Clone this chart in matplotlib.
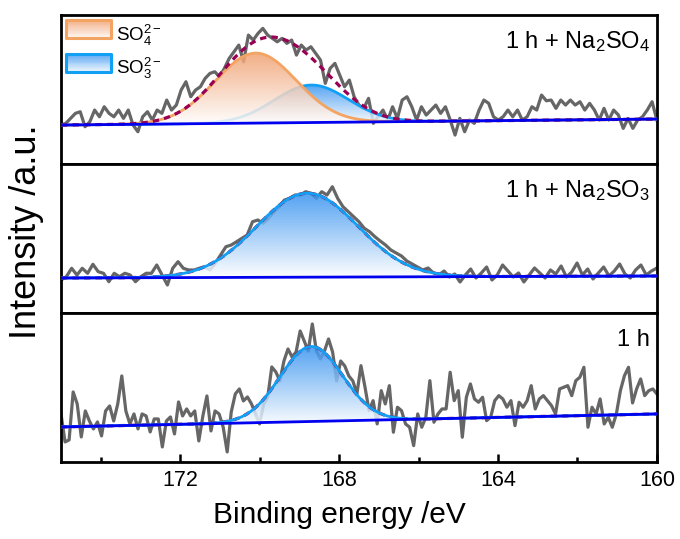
import numpy as np
import matplotlib
matplotlib.use("Agg")
import matplotlib.pyplot as plt
from matplotlib.colors import LinearSegmentedColormap
from matplotlib.patches import Patch, Rectangle
from matplotlib.legend_handler import HandlerBase

plt.rcParams['font.family'] = ['Liberation Sans', 'DejaVu Sans']
plt.rcParams['mathtext.fontset'] = 'custom'
plt.rcParams['mathtext.rm'] = 'Liberation Sans'
plt.rcParams['mathtext.it'] = 'Liberation Sans:italic'

# raw intensities (arbitrary units), 175 -> 160 eV
raw_top = [39, 40.7, 45.7, 50.7, 52.3, 37.3, 42.3, 54, 47.3, 57.3, 50.7, 47.3, 54, 45.7, 54,
           39, 32.3, 47.3, 52.3, 44, 54, 50.7, 64, 54, 59, 74, 82.3, 67.3, 74, 77.3, 85.7,
           90.7, 92.3, 87.3, 95.7, 105.7, 112.3, 119, 102.3, 129, 124, 130.7, 135.7, 129,
           125.7, 122.3, 125.7, 120.7, 124, 109, 119, 114, 117.3, 110.7, 104, 80.7, 95.7,
           100.7, 89, 77.3, 84, 67.3, 59, 55.7, 65.7, 40.7,
           47.3, 54, 44, 57.3, 45.7, 64, 67.3, 57.3, 44, 57.3, 49, 54, 59, 50.7, 57.3, 44,
           29, 45.7, 32.3, 44, 40.7, 54, 64, 60.7, 47.3, 44, 47.3, 54, 47.3, 54, 44, 47.3,
           57.3, 54, 69, 63.3, 64, 55.7, 64, 59, 64, 59, 62.3, 54, 60.7, 54, 44, 55.7, 44,
           54, 49, 35.7, 45.7, 35.7, 44, 47.3, 54, 62.3, 44]

raw_mid = [33, 36.3, 44.7, 38, 44.7, 39.7, 48.7, 41.3, 39.7, 31.3, 39.7, 36.3, 39.7, 38,
           31.3, 36.3, 39.7, 39.7, 48, 38, 28, 44.7, 51.3, 44.7, 43, 43, 44.7, 46.3, 43,
           49.7, 58, 66.3, 68, 71.3, 74.7, 78, 91.3, 93, 89.7, 94.7, 101.3, 106.3, 113,
           114.7, 118, 118, 121.3, 119.7, 114.7, 121.3, 118, 126.3, 114.7, 106.3, 101.3,
           96.3, 91.3, 84.7, 81.3, 76.3,
           72, 68, 63, 60, 57, 52, 49, 46, 43, 45, 40, 38, 42, 36, 39, 31, 38, 44, 35,
           40, 46, 33, 38, 48, 42, 36, 40, 31, 38, 45, 40, 35, 43, 39, 47, 36, 41, 50, 38,
           44, 34, 40, 46, 37, 42, 49, 39, 35, 43, 48, 38, 42, 45]

raw_bot = [48, 20, 22, 70, 58, 25, 51, 41, 33, 40, 26, 51, 56, 41, 58, 86, 51, 38, 48, 33,
           48, 46, 30, 43, 43, 15, 41, 45, 28, 60, 46, 53, 46, 51, 21, 46, 66, 31, 51, 48,
           35, 10, 50, 68, 73, 61, 65, 58, 48, 38, 58, 65, 95, 90, 81, 101, 113, 105, 110,
           131, 121, 111, 138, 111, 103, 111, 123, 110, 81, 101, 96, 86, 81, 68,
           96.3, 74.7, 51.3, 61.3, 38, 71.3, 58, 76.3, 29.7, 54.7, 51.3, 38, 34.7, 16.3,
           48, 34.7, 44.7, 81.3, 39.7, 48, 53, 53, 89.7, 61.3, 71.3, 24.7, 64.7, 78, 63,
           59.7, 64.7, 41.3, 44.7, 61.3, 66.3, 63, 54.7, 61.3, 36.3, 59.7, 54.7, 61.3, 76.3,
           53, 63, 66.3, 61.3, 56.3, 48, 73, 74.7, 76.3, 66.3, 81.3, 84.7, 94.7, 34.7, 54.7,
           48, 63, 38, 44.7, 34.7, 48, 71.3, 86.3, 94.7, 59, 73, 83, 66.3, 71.3, 73, 68]

# linear background: value at 175 eV and at 160 eV
bg_top = (39, 45)
bg_mid = (35, 37)
bg_bot = (35, 48)

# fitted components: (centre eV, height above background, FWHM eV)
so4_top = (170.1, 70, 2.4)
so3_top = (168.7, 37.5, 2.2)
so3_mid = (168.8, 84, 3.0)
so3_bot = (168.7, 75, 1.85)

labels = ['1 h + Na$_2$SO$_4$', '1 h + Na$_2$SO$_3$', '1 h']
legend_labels = ['SO$_4^{2-}$', 'SO$_3^{2-}$']

blue_line = '#12a0f5'
blue_fill = '#3592f0'
orange_line = '#f4a462'
orange_fill = '#f0a070'


def gauss(x, p):
    c, h, w = p
    return h * np.exp(-4 * np.log(2) * ((x - c) / w) ** 2)


def grad_fill(ax, x, top, base, color, z):
    poly = ax.fill_between(x, base, top, facecolor='none', edgecolor='none')
    cmap = LinearSegmentedColormap.from_list('g', ['white', color])
    grad = np.linspace(0, 1, 256).reshape(-1, 1)
    im = ax.imshow(grad, cmap=cmap, origin='lower', aspect='auto', alpha=0.85,
                   extent=[x.min(), x.max(), base.min(), top.max()], zorder=z)
    im.set_clip_path(poly.get_paths()[0], transform=ax.transData)


class GradHandler(HandlerBase):
    # legend box: vertical white -> colour gradient with a coloured frame
    def legend_artist(self, legend, orig, fontsize, handlebox):
        x0, y0 = handlebox.xdescent, handlebox.ydescent
        w, h = handlebox.width, handlebox.height
        cmap = LinearSegmentedColormap.from_list('g', ['white', orig.get_facecolor()])
        n = 20
        for k in range(n):
            r = Rectangle((x0, y0 + h * k / n), w, h / n + 0.2, facecolor=cmap(0.1 + 0.75 * k / n),
                          edgecolor='none', transform=handlebox.get_transform())
            handlebox.add_artist(r)
        frame = Rectangle((x0, y0), w, h, facecolor='none', edgecolor=orig.get_edgecolor(),
                          lw=2.2, joinstyle='round', transform=handlebox.get_transform())
        handlebox.add_artist(frame)
        return frame


fig, axes = plt.subplots(3, 1, figsize=(6.8, 5.39), dpi=100, sharex=True)
fig.subplots_adjust(left=0.0897, right=0.966, bottom=0.143, top=0.972, hspace=0)

xf = np.linspace(175, 160, 600)
panels = [(raw_top, bg_top, [so3_top, so4_top]),
          (raw_mid, bg_mid, [so3_mid]),
          (raw_bot, bg_bot, [so3_bot])]

for ax, (raw, bg, peaks), lab in zip(axes, panels, labels):
    xr = np.linspace(175, 160, len(raw))
    ax.plot(xr, raw, color='#666666', lw=2.3, zorder=2)
    base = bg[0] + (bg[1] - bg[0]) * (175 - xf) / 15
    env = base.copy()
    for i, p in enumerate(peaks):
        comp = base + gauss(xf, p)
        env += gauss(xf, p)
        if i == 0:
            grad_fill(ax, xf, comp, base, blue_fill, 3)
            ax.plot(xf, comp, color=blue_line, lw=2, zorder=4)
        else:
            grad_fill(ax, xf, comp, base, orange_fill, 5)
            ax.plot(xf, comp, color=orange_line, lw=2, zorder=6)
    ax.plot(xf, env, color='#990055', lw=2.3, ls=(0, (2, 1.6)), zorder=3.5 if len(peaks) == 1 else 7)
    ax.plot(xf, base, color='#0000ee', lw=2, zorder=8)
    ax.set_xlim(175, 160)
    ax.set_ylim(0, 149)
    ax.set_yticks([])
    for s in ax.spines.values():
        s.set_linewidth(2)
    ax.text(0.988, 0.82, lab, transform=ax.transAxes, ha='right', va='center', fontsize=17)

for ax in axes[:2]:
    ax.tick_params(axis='x', which='both', bottom=False, labelbottom=False)

axb = axes[2]
axb.set_xticks([172, 168, 164, 160])
axb.set_xticks([174, 170, 166, 162], minor=True)
axb.tick_params(axis='x', which='major', direction='in', length=6, width=1.8, labelsize=15.5, pad=6)
axb.tick_params(axis='x', which='minor', direction='in', length=3.5, width=1.8)

handles = [Patch(facecolor=orange_fill, edgecolor=orange_line),
           Patch(facecolor=blue_fill, edgecolor=blue_line)]
axes[0].legend(handles, legend_labels, loc='upper left', bbox_to_anchor=(0.008, 0.95),
               frameon=False, fontsize=13.5, handlelength=2.4, handleheight=1.1,
               labelspacing=0.45, handletextpad=0.3, borderpad=0, borderaxespad=0,
               handler_map={Patch: GradHandler()})

fig.text(339 / 680, 1 - 515 / 539, 'Binding energy /eV', ha='center', va='center', fontsize=21.5)
fig.text(27 / 680, 1 - 232 / 539, 'Intensity /a.u.', ha='center', va='center', rotation=90,
         fontsize=26)

fig.savefig('out.png', dpi=100)
